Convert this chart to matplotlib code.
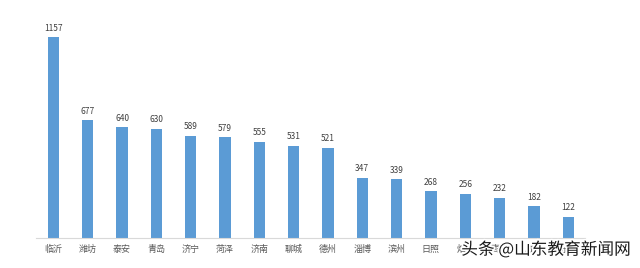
import matplotlib.pyplot as plt
import matplotlib.patheffects as pe

plt.rcParams['font.family'] = ['Noto Sans CJK SC', 'DejaVu Sans']

# last two city names are hidden under the watermark in the source image
cities = ['临沂', '潍坊', '泰安', '青岛', '济宁', '菏泽', '济南', '聊城',
          '德州', '淄博', '滨州', '日照', '烟台', '枣庄', '威海', '东营']
counts = [1157, 677, 640, 630, 589, 579, 555, 531, 521, 347, 339, 268, 256, 232, 182, 122]

fig = plt.figure(figsize=(6.4, 2.68), dpi=100)
ax = fig.add_axes([0.0566, 0.112, 0.858, 0.842])

x = range(len(cities))
ax.bar(x, counts, width=0.33, color='#5b9bd5')
for xi, v in zip(x, counts):
    ax.text(xi, v + 25, str(v), ha='center', va='bottom', fontsize=6, color='#404040')

ax.set_xlim(-0.5, len(cities) - 0.5)
ax.set_ylim(0, 1300)
ax.set_xticks(list(x))
ax.set_xticklabels(cities, fontsize=6.5, color='#595959')
ax.tick_params(axis='x', length=0, pad=5)
ax.set_yticks([])
for s in ['top', 'right', 'left']:
    ax.spines[s].set_visible(False)
ax.spines['bottom'].set_color('#d9d9d9')

# watermark
fig.text(0.985, 0.068, '头条 @山东教育新闻网', ha='right', va='center', fontsize=12,
         color='#1a1a1a', zorder=10,
         path_effects=[pe.withStroke(linewidth=2.5, foreground='white')])

fig.savefig('out.png', dpi=100)
